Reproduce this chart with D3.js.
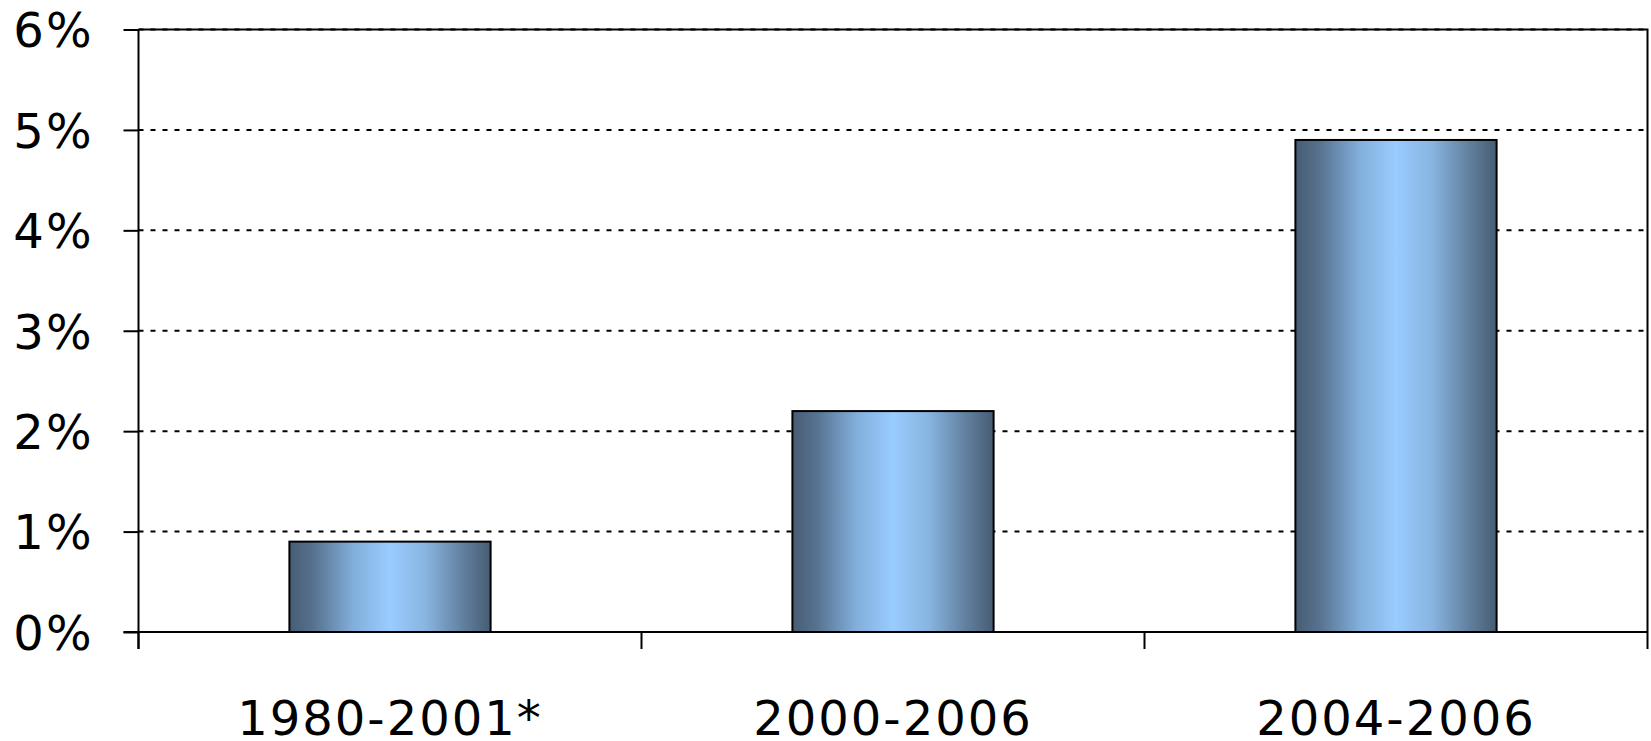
<!doctype html>
<html>
<head>
<style>
  body { margin: 0; background: #fff; }
  text { font-family: "DejaVu Sans", sans-serif; fill: #000; }
</style>
<script src="https://d3js.org/d3.v7.min.js"></script>
</head>
<body>
<svg width="1651" height="741" id="chart"></svg>
<script>
// data
var periods = ["1980-2001*", "2000-2006", "2004-2006"];
var growth = [0.9, 2.2, 4.9];          // percent
var yTicks = [0, 1, 2, 3, 4, 5, 6];

var svg = d3.select("#chart"),
    plotL = 138.5, plotT = 29.5, plotR = 1647.5, plotB = 632;

var x = d3.scaleBand().domain(periods).range([plotL, plotR]).paddingInner(0.6).paddingOuter(0.3);
var y = d3.scaleLinear().domain([0, 6]).range([plotB, plotT]);

// bar gradient (dark edges, light centre)
var grad = svg.append("defs").append("linearGradient")
    .attr("id", "barGrad").attr("x1", "0%").attr("x2", "100%").attr("y1", "0%").attr("y2", "0%");
[[0, "#475c74"], [0.12, "#57728f"], [0.32, "#82afdc"], [0.5, "#99ccff"], [0.68, "#88b4e0"], [0.86, "#62819f"], [1, "#475c74"]]
  .forEach(function(s) { grad.append("stop").attr("offset", s[0]).attr("stop-color", s[1]); });

// gridlines
svg.append("g").selectAll("line")
   .data(yTicks.filter(function(d) { return d > 0; }))
   .enter().append("line")
   .attr("x1", plotL).attr("x2", plotR)
   .attr("y1", function(d) { return y(d); }).attr("y2", function(d) { return y(d); })
   .attr("stroke", "#000").attr("stroke-width", 2).attr("stroke-dasharray", "5,7");

// top and right frame
svg.append("path")
   .attr("d", "M" + plotL + "," + plotT + "H" + plotR + "V" + plotB)
   .attr("fill", "none").attr("stroke", "#000").attr("stroke-width", 2);

// bars
svg.append("g").selectAll("rect")
   .data(growth)
   .enter().append("rect")
   .attr("x", function(d, i) { return x(periods[i]); })
   .attr("y", function(d) { return y(d); })
   .attr("width", x.bandwidth())
   .attr("height", function(d) { return y(0) - y(d); })
   .attr("fill", "url(#barGrad)")
   .attr("stroke", "#000").attr("stroke-width", 2);

// y axis
var yAxis = svg.append("g")
   .attr("transform", "translate(" + plotL + ",0)")
   .call(d3.axisLeft(y).tickValues(yTicks).tickSize(15).tickPadding(30)
         .tickFormat(function(d) { return d + "%"; }));
yAxis.selectAll("line, path").attr("stroke", "#000").attr("stroke-width", 2);
yAxis.select(".domain").attr("d", "M0," + plotT + "V" + (plotB + 17));
yAxis.selectAll("text").style("font-size", "48px").style("letter-spacing", "2px")
     .attr("font-family", null).attr("dy", "0.36em");

// x axis: baseline, ticks at band boundaries, labels at band centres
var xAxis = svg.append("g").attr("transform", "translate(0," + plotB + ")");
xAxis.append("line").attr("x1", plotL - 15).attr("x2", plotR)
     .attr("stroke", "#000").attr("stroke-width", 2);
var step = x.step();
var bounds = periods.map(function(p) { return x(p) + x.bandwidth() / 2 - step / 2; }).concat([plotR]);
xAxis.selectAll(".xt").data(bounds).enter().append("line")
     .attr("x1", function(d) { return d; }).attr("x2", function(d) { return d; })
     .attr("y1", 0).attr("y2", 17)
     .attr("stroke", "#000").attr("stroke-width", 2);
xAxis.selectAll(".xl").data(periods).enter().append("text")
     .attr("x", function(d) { return x(d) + x.bandwidth() / 2; })
     .attr("y", 103)
     .attr("text-anchor", "middle")
     .style("font-size", "48px").style("letter-spacing", "2px")
     .text(function(d) { return d; });
</script>
</body>
</html>
